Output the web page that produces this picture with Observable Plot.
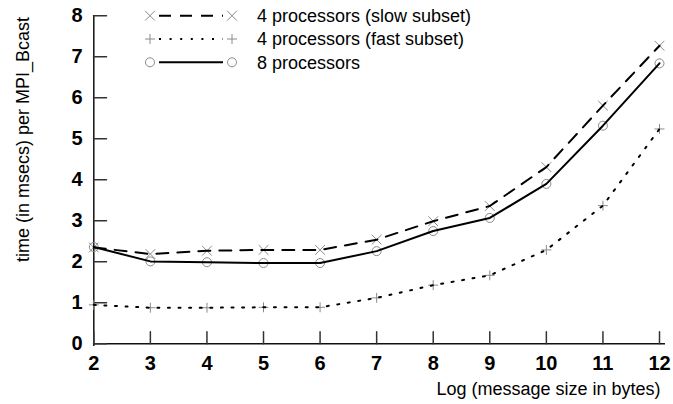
<!DOCTYPE html>
<html>
<head>
<meta charset="utf-8">
<script src="https://cdn.jsdelivr.net/npm/d3@7"></script>
<script src="https://cdn.jsdelivr.net/npm/@observablehq/plot@0.6"></script>
<style>
  html, body { margin: 0; padding: 0; background: #fff; }
  #wrap { position: relative; width: 673px; height: 404px; }
  #legend { position: absolute; left: 0; top: 0; pointer-events: none; }
</style>
</head>
<body>
<div id="wrap"></div>
<script>
const xValues = [2, 3, 4, 5, 6, 7, 8, 9, 10, 11, 12];
const slowSubset = [2.35, 2.19, 2.27, 2.29, 2.29, 2.54, 2.99, 3.36, 4.31, 5.81, 7.27];
const fastSubset = [0.95, 0.88, 0.88, 0.89, 0.89, 1.12, 1.43, 1.67, 2.29, 3.37, 5.24];
const eightProcs = [2.36, 2.01, 1.99, 1.97, 1.97, 2.26, 2.75, 3.07, 3.90, 5.32, 6.84];
const seriesNames = ["4 processors (slow subset)", "4 processors (fast subset)", "8 processors"];
const seriesValues = [slowSubset, fastSubset, eightProcs];
const seriesSymbols = ["times", "plus", "circle"];
const xTicks = [2, 3, 4, 5, 6, 7, 8, 9, 10, 11, 12];
const yTicks = [0, 1, 2, 3, 4, 5, 6, 7, 8];
const xTitle = "Log (message size in bytes)";
const yTitle = "time (in msecs) per MPI_Bcast";

const FONT = "'Liberation Sans', Arial, Helvetica, sans-serif";
const dashes = ["12,9", "2,8.6", null];
const radii = [4.5, 3.3, 4.5];
const markerColor = "#8a8a8a";

const series = seriesNames.map((name, i) =>
  xValues.map((x, j) => ({series: name, x, y: seriesValues[i][j]})));

const tickShape = {draw(context, l) { context.moveTo(0, 0); context.lineTo(0, -l); }};

const marks = [];
// axis lines
marks.push(Plot.ruleX([xTicks[0]], {stroke: "#111", strokeWidth: 1.5}));
marks.push(Plot.ruleY([yTicks[0]], {stroke: "#111", strokeWidth: 1.5}));
// inward ticks
marks.push(Plot.vectorY(yTicks, {y: d => d, frameAnchor: "left", length: 13, rotate: 90, anchor: "start", shape: tickShape, stroke: "#333", strokeWidth: 1.5}));
marks.push(Plot.vectorX(xTicks, {x: d => d, y: yTicks[0], length: 12, rotate: 0, anchor: "start", shape: tickShape, stroke: "#333", strokeWidth: 1.5}));
// tick labels
marks.push(Plot.axisX({ticks: xTicks, tickSize: 0, tickPadding: 9, fontSize: 20, fontWeight: "bold", tickFormat: d => String(d), label: null}));
marks.push(Plot.axisY({ticks: yTicks, tickSize: 0, tickPadding: 11, fontSize: 20, fontWeight: "bold", tickFormat: d => String(d), label: null}));
// titles
marks.push(Plot.text([yTitle], {text: d => d, frameAnchor: "top-left", dx: -65, dy: 124, rotate: -90, textAnchor: "middle", lineAnchor: "bottom", fontSize: 18}));
marks.push(Plot.text([xTitle], {text: d => d, frameAnchor: "bottom-right", dx: -5, dy: 48, textAnchor: "end", lineAnchor: "bottom", fontSize: 18}));
// markers
series.forEach((rows, i) => {
  marks.push(Plot.dot(rows, {x: "x", y: "y", symbol: seriesSymbols[i], r: radii[i], stroke: markerColor, fill: "none", strokeWidth: 1}));
});
// lines
series.forEach((rows, i) => {
  marks.push(Plot.line(rows, {x: "x", y: "y", stroke: "black", strokeWidth: 2, strokeDasharray: dashes[i]}));
});

const chart = Plot.plot({
  width: 673,
  height: 404,
  marginLeft: 93,
  marginRight: 8,
  marginTop: 15,
  marginBottom: 58,
  x: {domain: [xTicks[0], xTicks[xTicks.length - 1]], range: [93.3, 659]},
  y: {domain: [yTicks[0], yTicks[yTicks.length - 1]], range: [343.3, 15.3]},
  style: {fontFamily: FONT, background: "white", color: "black", overflow: "visible"},
  marks
});
const wrap = document.getElementById("wrap");
wrap.appendChild(chart);

// legend overlay
const legend = d3.select(wrap).append("svg")
  .attr("id", "legend").attr("width", 673).attr("height", 404);
const symbolTypes = {times: d3.symbolTimes, plus: d3.symbolPlus, circle: d3.symbolCircle};
seriesNames.forEach((name, i) => {
  const cy = 15.7 + i * 23.3;
  const g = legend.append("g");
  g.append("line").attr("x1", 159).attr("x2", 223).attr("y1", cy).attr("y2", cy)
    .attr("stroke", "black").attr("stroke-width", 2)
    .attr("stroke-dasharray", dashes[i]);
  const sym = d3.symbol(symbolTypes[seriesSymbols[i]], Math.PI * radii[i] * radii[i]);
  [150, 232].forEach(cx => {
    g.append("path").attr("d", sym()).attr("transform", `translate(${cx},${cy})`)
      .attr("fill", "none").attr("stroke", markerColor).attr("stroke-width", 1);
  });
  g.append("text").attr("x", 257).attr("y", cy).attr("dy", "0.35em")
    .attr("font-family", FONT).attr("font-size", 18).attr("fill", "black").text(name);
});
</script>
</body>
</html>
